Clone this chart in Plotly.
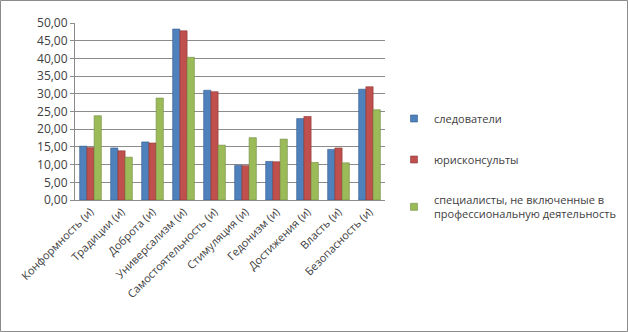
import plotly.graph_objects as go

categories = [
    "Конформность (и)", "Традиции (и)", "Доброта (и)", "Универсализм (и)",
    "Самостоятельность (и)", "Стимуляция (и)", "Гедонизм (и)",
    "Достижения (и)", "Власть (и)", "Безопасность (и)",
]
investigators = [15.2, 14.7, 16.4, 48.3, 31.0, 9.8, 10.9, 23.0, 14.3, 31.3]
legal_advisers = [14.8, 13.9, 16.1, 47.8, 30.6, 9.7, 10.8, 23.6, 14.7, 32.0]
not_employed = [23.8, 12.1, 28.8, 40.3, 15.5, 17.6, 17.2, 10.6, 10.5, 25.5]

series_names = [
    "следователи",
    "юрисконсульты",
    "специалисты, не включенные в<br>профессиональную деятельность",
]
series_values = [investigators, legal_advisers, not_employed]
fills = ["#4F81BD", "#C0504D", "#9BBB59"]
edges = ["#385D8A", "#8C3836", "#71893F"]

W, H = 628, 332
L, R, T, B = 75, 243, 23, 132

fig = go.Figure()
for i, (name, vals) in enumerate(zip(series_names, series_values)):
    fig.add_trace(go.Bar(
        x=categories, y=vals, name=name, legendgroup=str(i),
        showlegend=False,
        marker=dict(color=fills[i], line=dict(color=edges[i], width=0.6)),
    ))
    # small square legend key for each series
    fig.add_trace(go.Scatter(
        x=[None], y=[None], mode="markers", name=name, legendgroup=str(i),
        marker=dict(symbol="square", size=7, color=fills[i],
                    line=dict(color=edges[i], width=0.6)),
    ))

pw, ph = W - L - R, H - T - B
fig.add_shape(
    type="rect", xref="paper", yref="paper",
    x0=-(L - 0.5) / pw, x1=1 + (R - 0.5) / pw,
    y0=-(B - 0.5) / ph, y1=1 + (T - 0.5) / ph,
    line=dict(color="#8C8C8C", width=1), fillcolor="rgba(0,0,0,0)",
    layer="below",
)

fig.update_layout(
    width=W, height=H,
    margin=dict(l=L, r=R, t=T, b=B, autoexpand=False),
    paper_bgcolor="white", plot_bgcolor="white",
    separators=", ",
    barmode="group", bargap=0.3, bargroupgap=0.0,
    font=dict(family="Open Sans, Liberation Sans, sans-serif", color="#404040"),
    showlegend=True,
    legend=dict(
        x=(394 - L) / pw, xanchor="left",
        y=(200 - 104) / ph, yanchor="top",
        font=dict(size=11, color="#404040"),
        tracegroupgap=22, itemwidth=30,
        bgcolor="rgba(0,0,0,0)",
    ),
)
fig.update_yaxes(
    range=[0, 50], dtick=5, tickformat=".2f",
    showgrid=True, gridcolor="#8C8C8C", gridwidth=1,
    showline=True, linecolor="#8C8C8C", ticks="outside", ticklen=4,
    tickcolor="#8C8C8C", tickfont=dict(size=12, color="#404040"),
    zeroline=False,
)
fig.update_xaxes(
    tickangle=-45, tickfont=dict(size=11, color="#404040"),
    showline=True, linecolor="#8C8C8C", ticks="", showgrid=False,
)

fig.write_html("out.html")
